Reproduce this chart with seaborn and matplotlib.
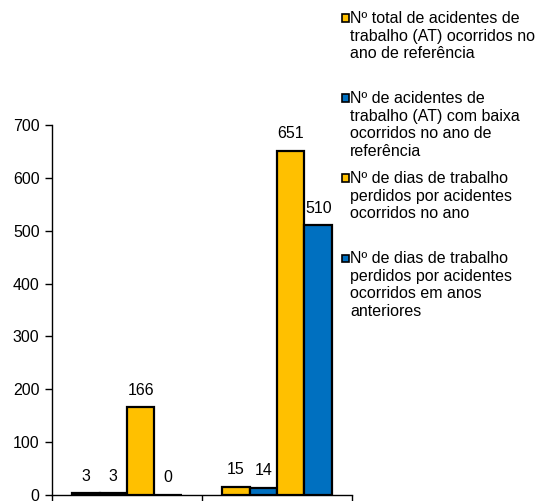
import matplotlib
matplotlib.use("Agg")
import matplotlib.pyplot as plt
from matplotlib.patches import Rectangle
import seaborn as sns
import pandas as pd

groups = ["Grupo 1", "Grupo 2"]
series = [
    "Nº total de acidentes de\ntrabalho (AT) ocorridos no\nano de referência",
    "Nº de acidentes de\ntrabalho (AT) com baixa\nocorridos no ano de\nreferência",
    "Nº de dias de trabalho\nperdidos por acidentes\nocorridos no ano",
    "Nº de dias de trabalho\nperdidos por acidentes\nocorridos em anos\nanteriores",
]
values = {
    series[0]: [3, 15],
    series[1]: [3, 14],
    series[2]: [166, 651],
    series[3]: [0, 510],
}
colors = ["#FFC000", "#0070C0", "#FFC000", "#0070C0"]
yticks = [0, 100, 200, 300, 400, 500, 600, 700]

rows = []
for s in series:
    for g, v in zip(groups, values[s]):
        rows.append({"grupo": g, "serie": s, "valor": v})
df = pd.DataFrame(rows)

sns.set_style("white")
plt.rcParams["font.family"] = ["Liberation Sans", "DejaVu Sans"]
FS = 11.5
plt.rcParams["font.size"] = FS
for k in ["text.color", "axes.labelcolor", "xtick.color", "ytick.color"]:
    plt.rcParams[k] = "black"

W, H = 539, 501
fig = plt.figure(figsize=(W / 100, H / 100), dpi=100)
ax = fig.add_axes([52 / W, 1 - 495 / H, 300 / W, 370 / H])

sns.barplot(data=df, x="grupo", y="valor", hue="serie", hue_order=series,
            order=groups, palette=colors, width=0.733, edgecolor="black",
            linewidth=1.6, ax=ax, legend=False, saturation=1)

for c in ax.containers:
    ax.bar_label(c, labels=[f"{v:g}" for v in c.datavalues], padding=7,
                 fontsize=FS, color="black")

ax.set_ylim(0, 700)
ax.set_yticks(yticks)
ax.set_yticklabels([str(t) for t in yticks])
ax.set_xlim(-0.5, 1.5)
ax.set_xticks([-0.5, 0.5, 1.5])
ax.set_xticklabels(["", "", ""])
ax.set_xlabel("")
ax.set_ylabel("")
for sp in ["top", "right"]:
    ax.spines[sp].set_visible(False)
for sp in ["left", "bottom"]:
    ax.spines[sp].set_color("black")
    ax.spines[sp].set_linewidth(1.0)
ax.tick_params(axis="both", direction="out", length=5, width=1.0,
               color="black", bottom=True, left=True, labelsize=FS,
               labelcolor="black", pad=4)

# legend: small square markers aligned with the first text line
first_line_centers = [18, 98, 178, 258]
for s, col, yc in zip(series, colors, first_line_centers):
    sq = 7
    fig.add_artist(Rectangle((342 / W, 1 - (yc + sq / 2) / H), sq / W, sq / H,
                             transform=fig.transFigure, facecolor=col,
                             edgecolor="black", linewidth=1.2))
    fig.text(350 / W, 1 - (yc - 7) / H, s, ha="left", va="top",
             fontsize=FS, linespacing=1.22, color="black")

fig.savefig("out.png", dpi=100)
